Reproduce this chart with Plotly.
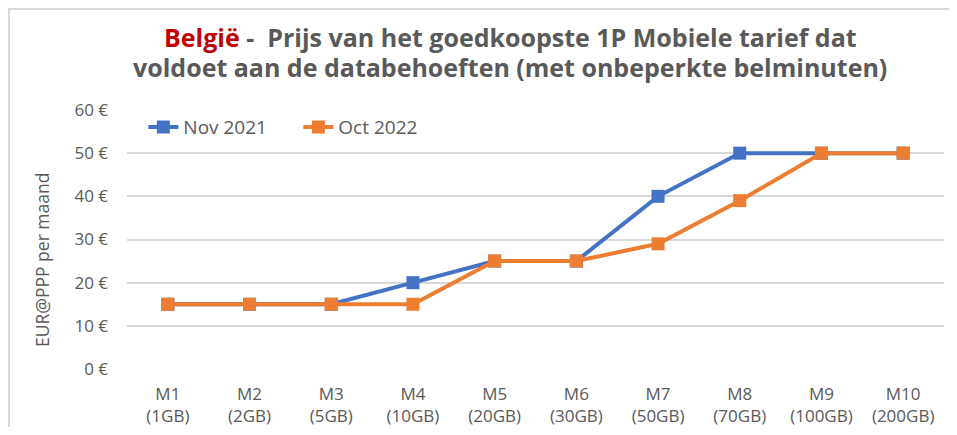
import plotly.graph_objects as go

categories = ["M1<br>(1GB)", "M2<br>(2GB)", "M3<br>(5GB)", "M4<br>(10GB)", "M5<br>(20GB)",
              "M6<br>(30GB)", "M7<br>(50GB)", "M8<br>(70GB)", "M9<br>(100GB)", "M10<br>(200GB)"]
nov_2021 = [15, 15, 15, 20, 25, 25, 40, 50, 50, 50]
oct_2022 = [15, 15, 15, 15, 25, 25, 29, 39, 50, 50]
y_ticks = [0, 10, 20, 30, 40, 50, 60]
y_tick_labels = ["0 €", "10 €", "20 €", "30 €", "40 €", "50 €", "60 €"]

FONT = "Open Sans"
GRAY = "#595959"

fig = go.Figure()
fig.add_trace(go.Scatter(x=categories, y=nov_2021, name="Nov 2021", mode="lines+markers",
                         line=dict(color="#4472C4", width=4),
                         marker=dict(symbol="square", size=13, color="#4472C4")))
fig.add_trace(go.Scatter(x=categories, y=oct_2022, name="Oct 2022", mode="lines+markers",
                         line=dict(color="#ED7D31", width=4),
                         marker=dict(symbol="square", size=13, color="#ED7D31")))

fig.update_layout(
    width=941, height=419,
    margin=dict(l=119, r=5, t=102, b=58, autoexpand=False),
    paper_bgcolor="white", plot_bgcolor="white",
    font=dict(family=FONT, color=GRAY, size=17),
    legend=dict(orientation="h", x=0.02, y=0.934, xanchor="left", yanchor="middle",
                font=dict(size=19, color=GRAY), bgcolor="rgba(0,0,0,0)",
                entrywidth=110, entrywidthmode="pixels"),
    showlegend=True,
    xaxis=dict(type="category", showgrid=False, showline=False, ticks="",
               tickfont=dict(size=17, color=GRAY), range=[-0.5, 9.5],
               ticklabelstandoff=13, automargin=False),
    yaxis=dict(range=[0, 60], tickvals=y_ticks, ticktext=y_tick_labels,
               showgrid=True, gridcolor="#D9D9D9", gridwidth=2, zeroline=False,
               showline=False, ticks="", ticklabelstandoff=18, automargin=False,
               tickfont=dict(size=17, color=GRAY)),
)

fig.add_annotation(text="<b><span style='color:#C00000'>België</span> -  Prijs van het goedkoopste 1P Mobiele tarief dat</b>",
                   xref="paper", yref="paper", x=0.4688, y=1.2819,
                   xanchor="center", yanchor="middle", showarrow=False,
                   font=dict(family=FONT, size=25, color=GRAY))
fig.add_annotation(text="<b>voldoet aan de databehoeften (met onbeperkte belminuten)</b>",
                   xref="paper", yref="paper", x=0.4688, y=1.1650,
                   xanchor="center", yanchor="middle", showarrow=False,
                   font=dict(family=FONT, size=25, color=GRAY))
fig.add_annotation(text="EUR@PPP per maand", textangle=-90,
                   xref="paper", yref="paper", x=-0.104, y=0.421,
                   xanchor="center", yanchor="middle", showarrow=False,
                   font=dict(family=FONT, size=17.5, color=GRAY))

fig.add_shape(type="rect", xref="paper", yref="paper",
              x0=-0.1444, x1=1.3, y0=-0.6, y1=1.39,
              line=dict(color="#D9D9D9", width=2), fillcolor="rgba(0,0,0,0)", layer="below")

fig.write_html("out.html")
